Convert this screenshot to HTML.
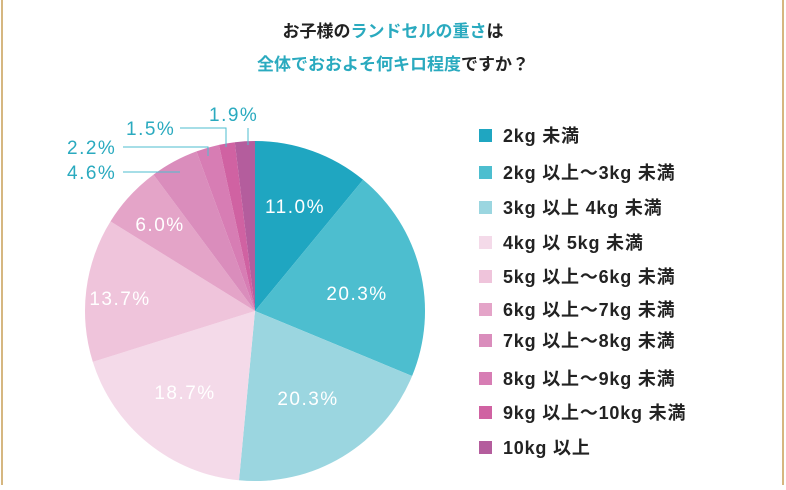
<!DOCTYPE html>
<html><head><meta charset="utf-8"><style>
body{margin:0;background:#fff;}
svg text{font-family:"Liberation Sans","Noto Sans CJK JP",sans-serif;}
</style></head><body>
<svg width="786" height="485" viewBox="0 0 786 485" xmlns="http://www.w3.org/2000/svg">
<rect x="0" y="0" width="786" height="485" fill="#fff"/>
<line x1="2" y1="0" x2="2" y2="485" stroke="#d6b780" stroke-width="2"/>
<line x1="783" y1="0" x2="783" y2="485" stroke="#d6b780" stroke-width="2"/>
<text x="393" y="37" text-anchor="middle" font-size="17" font-weight="bold" fill="#222">お子様の<tspan fill="#2aaabf">ランドセルの重さ</tspan>は</text>
<text x="393" y="70" text-anchor="middle" font-size="17" font-weight="bold" fill="#2aaabf">全体でおおよそ何キロ程度<tspan fill="#222">ですか？</tspan></text>
<g stroke="none">
<path d="M255,311 L255,141 A170,170 0 0 1 363.1,179.8 Z" fill="#1fa6c1"/>
<path d="M255,311 L363.1,179.8 A170,170 0 0 1 412.1,376 Z" fill="#4dbecf"/>
<path d="M255,311 L412.1,376 A170,170 0 0 1 239,480.3 Z" fill="#9bd6e0"/>
<path d="M255,311 L239,480.3 A170,170 0 0 1 92.8,361.9 Z" fill="#f4dae9"/>
<path d="M255,311 L92.8,361.9 A170,170 0 0 1 110.5,221.4 Z" fill="#efc4db"/>
<path d="M255,311 L110.5,221.4 A170,170 0 0 1 153.5,174.6 Z" fill="#e4a4c8"/>
<path d="M255,311 L153.5,174.6 A170,170 0 0 1 196.5,151.4 Z" fill="#da8dbc"/>
<path d="M255,311 L196.5,151.4 A170,170 0 0 1 219,144.9 Z" fill="#d77db4"/>
<path d="M255,311 L219,144.9 A170,170 0 0 1 234.8,142.2 Z" fill="#d062a2"/>
<path d="M255,311 L234.8,142.2 A170,170 0 0 1 255,141 Z" fill="#b45d9d"/>
</g>
<g font-size="19" fill="#fff" text-anchor="middle" letter-spacing="1.5">
<text x="295" y="213">11.0%</text>
<text x="357" y="300">20.3%</text>
<text x="308" y="405">20.3%</text>
<text x="185" y="399">18.7%</text>
<text x="120" y="305">13.7%</text>
<text x="160" y="231">6.0%</text>
</g>
<g font-size="19" fill="#2aaabf" letter-spacing="1.5">
<text x="209" y="121">1.9%</text>
<text x="126" y="135">1.5%</text>
<text x="67" y="154">2.2%</text>
<text x="67" y="179">4.6%</text>
</g>
<g stroke="#4dbecf" stroke-width="1" fill="none">
<polyline points="248,128 248,145"/>
<polyline points="180,128 226,128 226,147"/>
<polyline points="123,147 208,147 208,156"/>
<polyline points="123,172 180,172"/>
</g>
<g font-size="18" font-weight="bold" fill="#222" letter-spacing="0.8">
<rect x="479" y="129" width="13" height="13" fill="#1fa6c1"/><text x="503" y="142">2kg 未満</text>
<rect x="479" y="166" width="13" height="13" fill="#4dbecf"/><text x="503" y="179">2kg 以上～3kg 未満</text>
<rect x="479" y="201" width="13" height="13" fill="#9bd6e0"/><text x="503" y="214">3kg 以上 4kg 未満</text>
<rect x="479" y="236" width="13" height="13" fill="#f4dae9"/><text x="503" y="249">4kg 以 5kg 未満</text>
<rect x="479" y="270" width="13" height="13" fill="#efc4db"/><text x="503" y="283">5kg 以上～6kg 未満</text>
<rect x="479" y="303" width="13" height="13" fill="#e4a4c8"/><text x="503" y="316">6kg 以上～7kg 未満</text>
<rect x="479" y="334" width="13" height="13" fill="#da8dbc"/><text x="503" y="347">7kg 以上～8kg 未満</text>
<rect x="479" y="372" width="13" height="13" fill="#d77db4"/><text x="503" y="385">8kg 以上～9kg 未満</text>
<rect x="479" y="406" width="13" height="13" fill="#d062a2"/><text x="503" y="419">9kg 以上～10kg 未満</text>
<rect x="479" y="441" width="13" height="13" fill="#b45d9d"/><text x="503" y="454">10kg 以上</text>
</g>
</svg>
</body></html>
